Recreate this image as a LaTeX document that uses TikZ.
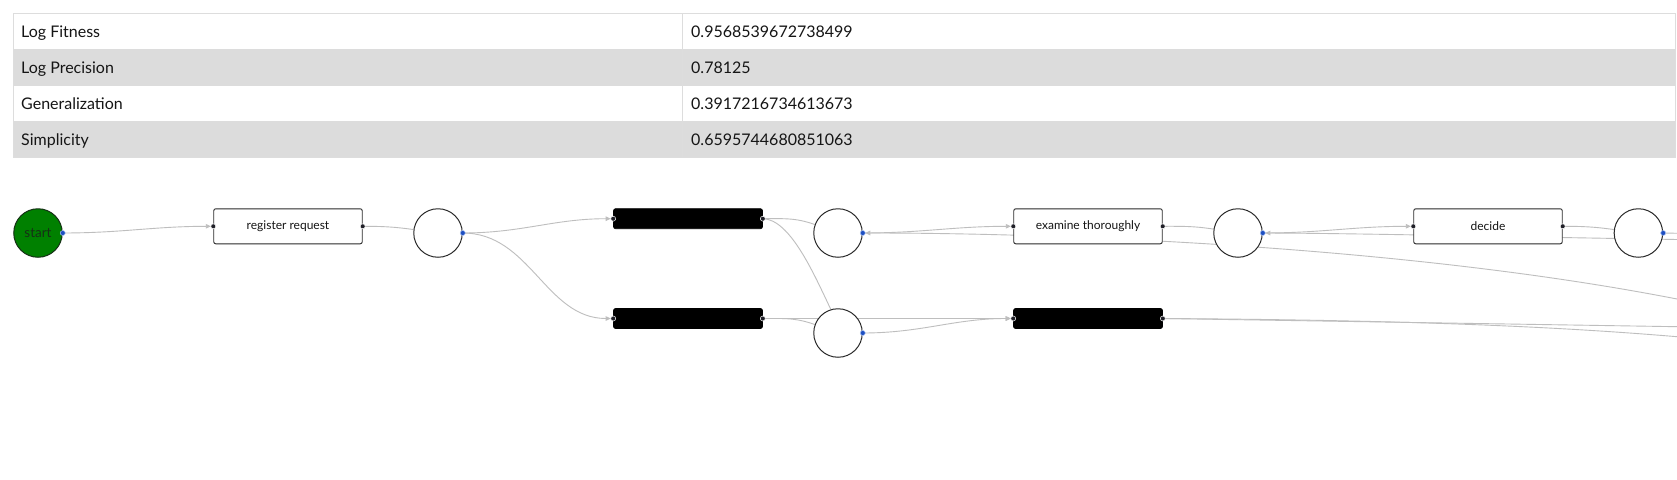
\documentclass[tikz,border=0pt]{standalone}
\usepackage{fontspec}
\setmainfont{Lato}
\usetikzlibrary{arrows.meta,backgrounds}
\definecolor{edgec}{HTML}{BEBEBE}
\definecolor{rowg}{HTML}{DCDCDC}
\definecolor{tlinec}{HTML}{DDDDDD}
\definecolor{portblue}{HTML}{1E4FC2}
\definecolor{portring}{HTML}{A8C0F0}
\definecolor{portdark}{HTML}{202028}
\definecolor{startg}{HTML}{008000}
\definecolor{startline}{HTML}{163016}
\definecolor{nodeline}{HTML}{2A2A2A}
\definecolor{txt}{HTML}{151515}
\begin{document}
\begin{tikzpicture}[x=1pt,y=1pt,
  lbl/.style={anchor=base west, inner sep=0pt, font=\fontsize{16}{19}\selectfont, text=txt},
  trans/.style={draw=nodeline, line width=0.9pt, fill=white, rounded corners=2pt, minimum width=148.5pt, minimum height=35pt, inner sep=0pt, font=\fontsize{12}{14}\selectfont, text=txt},
  silent/.style={fill=black, draw=black, line width=0.6pt, rounded corners=2pt, minimum width=149pt, minimum height=20pt, inner sep=0pt},
  place/.style={circle, draw=nodeline, line width=1pt, fill=white, minimum size=48.5pt, inner sep=0pt},
  startplace/.style={place, fill=startg, draw=startline, font=\fontsize{13.5}{15}\selectfont, text=startline},
  edge/.style={draw=edgec, line width=0.9pt},
  arr/.style={-{Triangle[length=5pt,width=4.5pt]}, shorten >=2.5pt},
  tport/.style={circle, fill=portdark, draw=white, line width=0.5pt, inner sep=0pt, minimum size=5pt},
  pport/.style={circle, fill=portblue, draw=portring, line width=0.5pt, inner sep=0pt, minimum size=5pt},
]
\useasboundingbox (0,0) rectangle (1677,-479);

% ---- table ----
\fill[rowg] (13,-49) rectangle (1675,-85.5);
\fill[rowg] (13,-121) rectangle (1675,-157.5);
\draw[tlinec, line width=0.8pt] (13,-13) rectangle (1675,-157.5);
\draw[tlinec, line width=0.8pt] (682.5,-13) -- (682.5,-157.5);
\node[lbl] (l1) at (21,-37.3) {Log Fitness};
\node[lbl] (v1) at (691,-37.3) {0.9568539672738499};
\node[lbl] (l2) at (21,-73.5) {Log Precision};
\node[lbl] (v2) at (691,-73.5) {0.78125};
\node[lbl] (l3) at (21,-109.5) {Generalization};
\node[lbl] (v3) at (691,-109.5) {0.3917216734613673};
\node[lbl] (l4) at (21,-145.5) {Simplicity};
\node[lbl] (v4) at (691,-145.5) {0.6595744680851063};

% ---- nodes ----
\node[startplace] (start) at (38,-233) {start};
\node[trans] (rr) at (288,-226.3) {register request};
\node[place] (p1) at (438,-233) {};
\node[silent] (t1) at (688,-218.7) {};
\node[silent] (t2) at (688,-318.5) {};
\node[place] (p2) at (838,-233) {};
\node[place] (p3) at (838,-333) {};
\node[trans] (et) at (1088,-226.3) {examine thoroughly};
\node[silent] (t3) at (1088,-318.5) {};
\node[place] (p4) at (1238,-233) {};
\node[trans] (dc) at (1488,-226.3) {decide};
\node[place] (p5) at (1638.4,-233) {};

\coordinate (oA) at (1690,-233.5);
\coordinate (oB) at (1677,-239.5);
\coordinate (oC) at (1677,-299);
\coordinate (oD) at (1690,-326.9);
\coordinate (oE) at (1677,-336.7);

% ---- edges ----
\begin{scope}[on background layer]
\fill[white] (0,0) rectangle (1677,-479);
\draw[edge,arr] (start.east) to[out=0,in=180] (rr.west);
\draw[edge] (rr.east) to[out=0,in=172] (p1.172);
\draw[edge,arr] (p1.east) to[out=0,in=180] (t1.west);
\draw[edge,arr] (p1.east) to[out=0,in=180] (t2.west);
\draw[edge] (t1.east) to[out=0,in=160] (p2.160);
\draw[edge] (t1.east) .. controls (790,-219) and (814,-274) .. (p3.107);
\draw[edge] (t2.east) to[out=0,in=160] (p3.160);
\draw[edge,arr] (t2.east) -- (t3.west);
\draw[edge,arr] (p3.east) to[out=0,in=180] (t3.west);
\draw[edge,arr] (p2.east) to[out=0,in=180] (et.west);
\draw[edge] (et.east) to[out=0,in=171] (p4.171);
\draw[edge,arr] (p4.east) to[out=0,in=180] (dc.west);
\draw[edge] (dc.east) to[out=0,in=172] (p5.172);
\draw[edge] (p5.east) -- (oA);
\draw[edge,arr] (oB) .. controls (1500,-236.6) and (1350,-233.3) .. (p4.east);
\draw[edge,arr] (oC) .. controls (1400,-245) and (1050,-233) .. (p2.east);
\draw[edge] (t3.east) -- (oD);
\draw[edge] (t3.east) .. controls (1400,-320) and (1550,-326) .. (oE);
\end{scope}

% ---- ports ----
\node[pport] (ps) at (start.east) {};
\node[tport] (rrl) at (rr.west) {};
\node[tport] (rrr) at (rr.east) {};
\node[pport] (pp1) at (p1.east) {};
\node[tport] (t1l) at (t1.west) {};
\node[tport] (t1r) at (t1.east) {};
\node[tport] (t2l) at (t2.west) {};
\node[tport] (t2r) at (t2.east) {};
\node[pport] (pp2) at (p2.east) {};
\node[pport] (pp3) at (p3.east) {};
\node[tport] (etl) at (et.west) {};
\node[tport] (etr) at (et.east) {};
\node[tport] (t3l) at (t3.west) {};
\node[tport] (t3r) at (t3.east) {};
\node[pport] (pp4) at (p4.east) {};
\node[tport] (dcl) at (dc.west) {};
\node[tport] (dcr) at (dc.east) {};
\node[pport] (pp5) at (p5.east) {};
\end{tikzpicture}
\end{document}
